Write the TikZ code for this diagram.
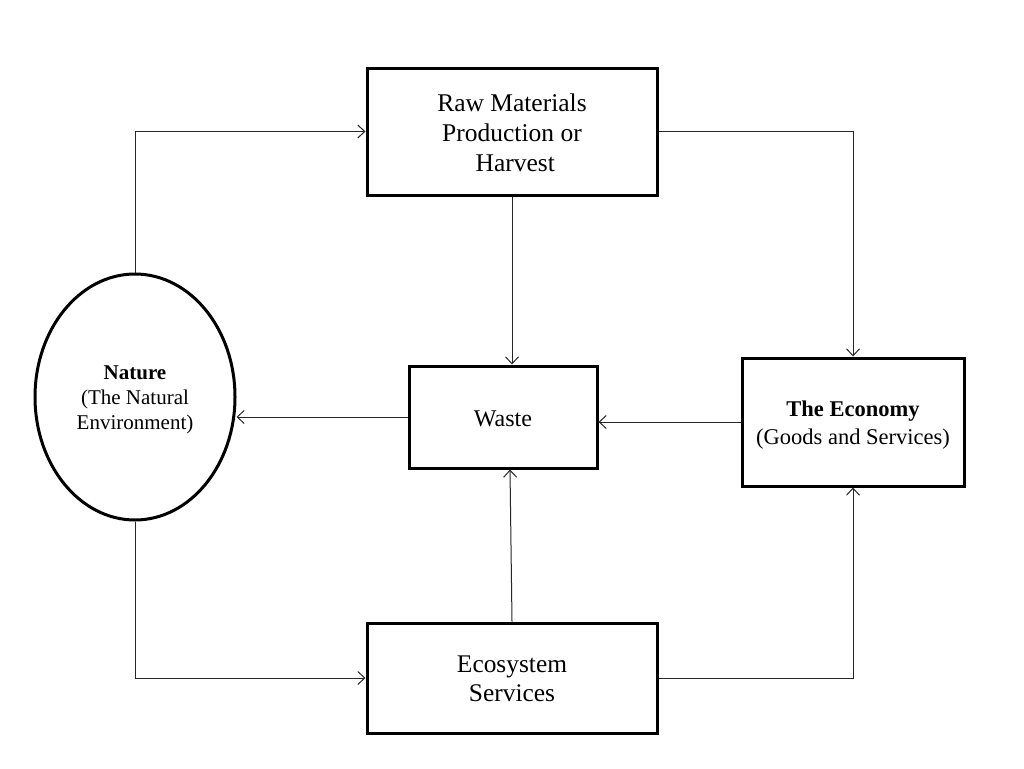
\documentclass[tikz,border=0pt]{standalone}
\usepackage{fontspec}
\setmainfont{Liberation Serif}
\usetikzlibrary{shapes.geometric,arrows.meta}
% #1 = height of the first baseline above the node centre, #2 = lines
\newcommand\placetext[2]{\raisebox{#1}[0pt][0pt]{\begin{tabular}[t]{@{}c@{}}#2\end{tabular}}}
\begin{document}
\begin{tikzpicture}[x=1pt,y=-1pt,
  box/.style={draw=black,line width=3pt,rectangle,inner sep=0pt,fill=white},
  conn/.style={draw=black!85,line width=1pt,-{Straight Barb[length=7pt,width=13pt,line width=1pt]}},
]
\useasboundingbox[fill=white] (0,0) rectangle (1024,768);
\node[box,minimum width=290pt,minimum height=127pt,font=\fontsize{25.5}{30}\selectfont] (raw) at (512,131.5)
  {\placetext{19.8pt}{Raw Materials\\Production or\\ \hspace*{6.5pt}Harvest}};
\node[box,minimum width=188pt,minimum height=102pt,font=\fontsize{24}{28}\selectfont] (waste) at (503,417)
  {\placetext{-9.7pt}{Waste}};
\node[box,minimum width=222pt,minimum height=128pt,font=\fontsize{22.5}{27.7}\selectfont] (eco) at (853,422)
  {\placetext{5.3pt}{\textbf{The Economy}\\(Goods and Services)}};
\node[box,minimum width=290pt,minimum height=110pt,font=\fontsize{25.4}{29.5}\selectfont] (ecos) at (512,678)
  {\placetext{5.7pt}{Ecosystem\\Services}};
\node[draw=black,line width=3pt,ellipse,inner sep=0pt,minimum width=200pt,minimum height=246pt,font=\fontsize{21}{25.2}\selectfont] (nat) at (135,397)
  {\placetext{18pt}{\textbf{Nature}\\(The Natural\\Environment)}};
\draw[conn] (nat.north) |- (raw.west);
\draw[conn] (raw.east) -| (eco.north);
\draw[conn] (raw.south) -- (raw.south |- waste.north);
\draw[conn] (eco.west) -- (eco.west -| waste.east);
\draw[conn] (waste.west) -- (waste.west -| nat.east);
\draw[conn] (ecos.north) -- ([xshift=7pt]waste.south);
\draw[conn] (nat.south) |- (ecos.west);
\draw[conn] (ecos.east) -| (eco.south);
\end{tikzpicture}
\end{document}
